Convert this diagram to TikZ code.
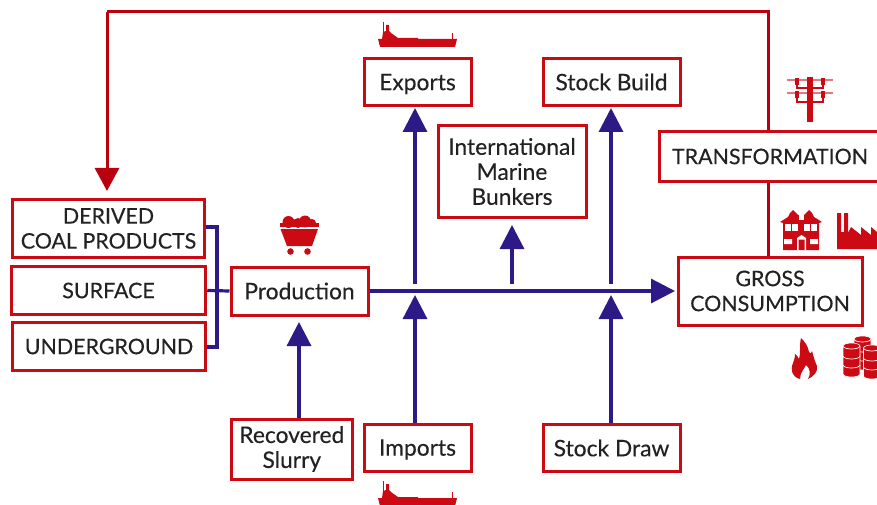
\documentclass[tikz,border=0pt]{standalone}
\usepackage{fontspec}
\setmainfont{Lato}[FakeBold=0.25]
\usetikzlibrary{arrows.meta}
\definecolor{rd}{HTML}{CC0A14}
\definecolor{drd}{HTML}{B8000F}
\definecolor{bl}{HTML}{2E1A87}
\definecolor{tx}{HTML}{222222}
\tikzset{
  box/.style={draw=rd,line width=3pt,fill=white,align=center,text=tx,font=\fontsize{22.8}{25}\selectfont,inner sep=0pt,anchor=center},
  caps/.style={font=\fontsize{21.4}{25}\selectfont},
  flow/.style={draw=bl,line width=3.2pt},
  flowhead/.style={flow,-{Triangle[length=24pt,width=24pt]}},
  redline/.style={draw=drd,line width=3pt},
  pics/ship/.style={code={
    \fill[rd] (-38,0)--(37,0)--(39,-8)--(0,-8)--(0,-9)--(-20,-9)--(-27,-14)--(-29,-16)--(-29,-22)--(-32,-22)--(-32,-16)--(-35,-15)--(-36,-8)--(-40,-8)--cycle;
    \fill[rd] (-34.6,-8) rectangle (-33.8,-25);
    \fill[rd] (33.6,-8) rectangle (34.4,-14);
  }},
  pics/barrel/.style={code={
    \fill[rd,draw=white,line width=.6pt] (-8.5,-14) arc[start angle=180,end angle=360,x radius=8.5,y radius=3] -- (8.5,14) arc[start angle=0,end angle=180,x radius=8.5,y radius=3] -- cycle;
    \draw[white,line width=.7pt] (-8.5,-14) arc[start angle=180,end angle=0,x radius=8.5,y radius=3];
    \draw[white,line width=.7pt] (-8.5,-4) arc[start angle=180,end angle=0,x radius=8.5,y radius=3];
    \draw[white,line width=.7pt] (-8.5,5) arc[start angle=180,end angle=0,x radius=8.5,y radius=3];
  }},
}
\begin{document}
\begin{tikzpicture}[x=1pt,y=-1pt]
\useasboundingbox (0,0) rectangle (877,505);
\coordinate (busT) at (217,227);
\coordinate (busB) at (217,347);
\coordinate (mainE) at (675,291);
\coordinate (jE) at (415,284);
\coordinate (jI) at (512,284);
\coordinate (jS) at (611,284);
\coordinate (tE) at (415,108);
\coordinate (tI) at (512,225);
\coordinate (tS) at (611,108);
\coordinate (tM) at (415,295);
\coordinate (tD) at (611,295);
\coordinate (tR) at (299,322);
\coordinate (c1) at (768,12);
\coordinate (c2) at (107,12);
\coordinate (tC) at (107,191);
\draw[redline] (768,132) -- (c1) -- (c2);
\draw[redline,-{Triangle[length=23pt,width=24pt]}] (c2) -- (tC);
\draw[redline] (768,181) -- (768,256);
\node[box,caps,minimum width=192.5pt,minimum height=58pt] (derived) at (108.5,228.5) {DERIVED\\COAL PRODUCTS};
\node[box,caps,minimum width=194.5pt,minimum height=48pt] (surface) at (108.5,290.5) {SURFACE};
\node[box,caps,minimum width=193.5pt,minimum height=48pt] (under) at (109,346.5) {UNDERGROUND};
\node[box,minimum width=137pt,minimum height=48pt] (prod) at (299.5,291) {Production};
\node[box,minimum width=120.5pt,minimum height=60pt] (slurry) at (291.8,449) {Recovered\\Slurry};
\node[box,text depth=0pt,minimum width=107pt,minimum height=47pt] (imports) at (417.5,447.5) {Imports};
\node[box,minimum width=137pt,minimum height=47pt] (draw) at (611.5,448) {Stock Draw};
\node[box,text depth=0pt,minimum width=107pt,minimum height=47pt] (exports) at (417.5,82) {Exports};
\node[box,minimum width=137pt,minimum height=47pt] (build) at (611.5,82) {Stock Build};
\node[box,minimum width=148pt,minimum height=92pt] (imb) at (512,171.5) {International\\Marine\\Bunkers};
\node[box,caps,minimum width=221pt,minimum height=49pt] (trans) at (770,156.5) {TRANSFORMATION};
\node[box,caps,minimum width=184pt,minimum height=68pt] (gross) at (770,291) {GROSS\\CONSUMPTION};
\draw[flow] (derived.east|-busT) -- (busT) -- (busB) -- (under.east|-busB);
\draw[flow] (surface.east) -- (prod.west);
\draw[flowhead] (prod.east) -- (mainE);
\draw[flowhead] (jE) -- (tE);
\draw[flowhead] (jI) -- (tI);
\draw[flowhead] (jS) -- (tS);
\draw[flowhead] (imports.north-|tM) -- (tM);
\draw[flowhead] (draw.north-|tD) -- (tD);
\draw[flowhead] (slurry.north-|tR) -- (tR);
% ships
\pic at (418,47) {ship};
\pic at (418,506) {ship};
% mine cart
\fill[rd] (288.5,222) circle (6) (298,223) circle (5) (305,221.5) circle (6) (312,223) circle (4);
\fill[rd] (280,223) rectangle (318.5,227);
\fill[rd] (280.5,229) -- (318,229) -- (312,246) -- (287,246) -- cycle;
\fill[rd] (290.5,251.5) circle (3.3);
\fill[rd] (307.5,251.5) circle (3.3);
% pylon
\fill[rd!55] (787,79) rectangle (833,81);
\fill[rd!55] (787,92) rectangle (833,94);
\fill[rd] (807,77) rectangle (813,122);
\foreach \xx in {797,823}{
  \fill[rd] (\xx-2,78) rectangle (\xx+2,85);
  \fill[rd] (\xx-2,91) rectangle (\xx+2,98);
}
\draw[rd,line width=1.4pt] (797,85) -- (797,88) -- (823,88) -- (823,85) (797,98) -- (797,102) -- (823,102) -- (823,98);
% house
\fill[rd] (780,222) -- (788,217) -- (790,213) -- (793,210) -- (796,213) -- (798,215) -- (804,215) -- (806,213) -- (809,210) -- (812,213) -- (814,217) -- (822,222) -- (819,223) -- (819,250) -- (783,250) -- (783,223) -- cycle;
\fill[white] (798.5,214.5) rectangle (803.5,220);
\foreach \xx in {785,792,804,811}{\fill[white] (\xx,223.5) rectangle (\xx+6,231);}
\fill[white] (784,239) rectangle (792,244) (810,239) rectangle (818,244);
\fill[white] (797,250) -- (797,238) -- (801.5,235) -- (806,238) -- (806,250) -- (804.5,250) -- (804.5,239.5) -- (798.5,239.5) -- (798.5,250) -- cycle;
% factory
\fill[rd] (837,249) -- (837,213) -- (841,213) -- (841,232) -- (844,232) -- (844,213) -- (848,213) -- (848,233) -- (851,227) -- (861,235) -- (861,227) -- (871,235) -- (871,227) -- (877,232) -- (877,249) -- cycle;
% flame
\fill[rd] (800,379) .. controls (792,377) and (790,370) .. (793,363) .. controls (794,360) and (795,358) .. (795,354) .. controls (798,356) and (798,358) .. (799,359) .. controls (801,354) and (799,346) .. (801,338) .. controls (805,342) and (808,346) .. (809,352) .. controls (810,354) and (811,354) .. (812,351) .. controls (814,358) and (815,362) .. (817,366) .. controls (818,372) and (814,376) .. (808,379) .. controls (811,374) and (810,368) .. (806,365) .. controls (805,368) and (800,372) .. (800,379) -- cycle;
% barrels
\pic at (862.5,353) {barrel};
\pic at (851.5,360) {barrel};
\pic at (872,362) {barrel};
\end{tikzpicture}
\end{document}
